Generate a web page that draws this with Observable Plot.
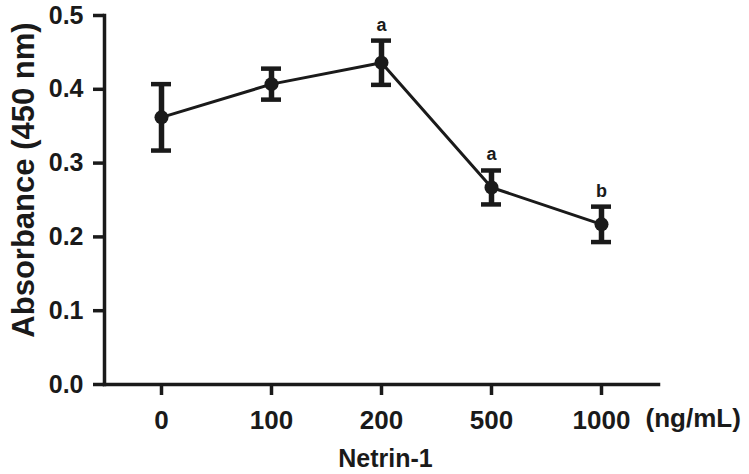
<!DOCTYPE html>
<html>
<head>
<meta charset="utf-8">
<script src="https://cdn.jsdelivr.net/npm/d3@7"></script>
<script src="https://cdn.jsdelivr.net/npm/@observablehq/plot@0.6"></script>
<style>
  html, body { margin: 0; padding: 0; background: #fff; }
  #chart svg { display: block; }
</style>
</head>
<body>
<div id="chart"></div>
<script>
const doses = ["0", "100", "200", "500", "1000"];
const means = [0.362, 0.407, 0.436, 0.267, 0.217];
const errors = [0.045, 0.021, 0.030, 0.023, 0.024];
const letters = ["", "", "a", "a", "b"];
const yTicks = [0, 0.1, 0.2, 0.3, 0.4, 0.5];

const data = doses.map((d, i) => ({
  dose: d,
  mean: means[i],
  lo: means[i] - errors[i],
  hi: means[i] + errors[i],
  letter: letters[i]
}));

const ink = "#1a1a1a";
const font = "Liberation Sans, Arial, Helvetica, sans-serif";

const chart = Plot.plot({
  width: 749,
  height: 474,
  marginLeft: 104,
  marginRight: 91,
  marginTop: 15,
  marginBottom: 90,
  style: { fontFamily: font, fontSize: "25px", fontWeight: "bold", color: ink, background: "#fff" },
  x: { type: "point", domain: doses, padding: 0.5 },
  y: { domain: [0, 0.5] },
  marks: [
    Plot.frame({ anchor: "left", stroke: ink, strokeWidth: 3.5 }),
    Plot.frame({ anchor: "bottom", stroke: ink, strokeWidth: 3.5 }),
    Plot.axisY({ ticks: yTicks, tickFormat: d3.format(".1f"), tickSize: 11, tickPadding: 10, strokeWidth: 3.5, stroke: ink, fill: ink, label: null }),
    Plot.axisX({ tickSize: 11, tickPadding: 15, fontSize: 26, strokeWidth: 3.5, stroke: ink, fill: ink, label: null }),
    Plot.line(data, { x: "dose", y: "mean", stroke: ink, strokeWidth: 3 }),
    Plot.ruleX(data, { x: "dose", y1: "lo", y2: "hi", stroke: ink, strokeWidth: 5.5 }),
    Plot.ruleY(data, { y: "hi", x1: "dose", x2: "dose", insetLeft: -10, insetRight: -10, stroke: ink, strokeWidth: 4.5 }),
    Plot.ruleY(data, { y: "lo", x1: "dose", x2: "dose", insetLeft: -10, insetRight: -10, stroke: ink, strokeWidth: 4.5 }),
    Plot.dot(data, { x: "dose", y: "mean", r: 7, fill: ink, stroke: null }),
    Plot.text(data, { x: "dose", y: "hi", text: "letter", dy: -10, lineAnchor: "bottom", fontSize: 18, fontWeight: "bold", fill: ink }),
    Plot.text(["(ng/mL)"], { frameAnchor: "bottom-right", text: d => d, textAnchor: "start", lineAnchor: "middle", dx: -13, dy: 34, fontSize: 26, fill: ink }),
    Plot.text(["Netrin-1"], { frameAnchor: "bottom", text: d => d, textAnchor: "middle", lineAnchor: "middle", dx: 4, dy: 74, fontSize: 25, fill: ink }),
    Plot.text(["Absorbance (450 nm)"], { frameAnchor: "left", text: d => d, rotate: -90, textAnchor: "middle", lineAnchor: "middle", dx: -80, dy: -20, fontSize: 31, fill: ink })
  ]
});

document.getElementById("chart").appendChild(chart);
</script>
</body>
</html>
